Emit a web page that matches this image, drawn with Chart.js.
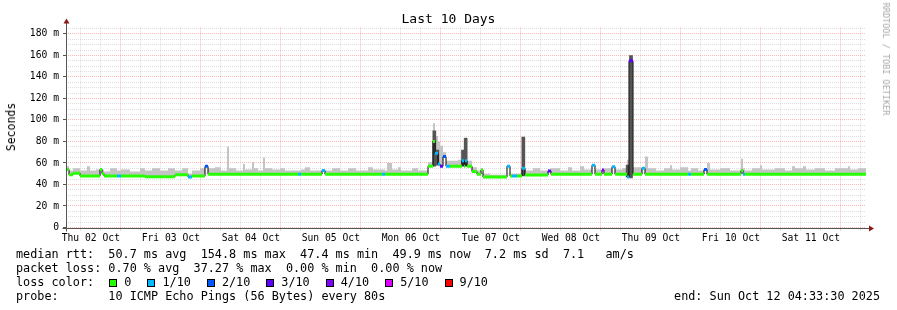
<!DOCTYPE html>
<html>
<head>
<meta charset="utf-8">
<script src="https://cdn.jsdelivr.net/npm/chart.js@4"></script>
<style>
  body { margin: 0; background: #fff; }
  #wrap { position: relative; width: 897px; height: 310px; font-family: "DejaVu Sans Mono", monospace; color: #000; }
  #myChart { position: absolute; left: 0; top: 0; }
  .txt { position: absolute; white-space: pre; }
  .leg { left: 16px; font-size: 11.8px; line-height: 14px; }
  .box { display: inline-block; width: 6px; height: 6px; border: 1px solid #000; margin: 0 7px 0 1px; vertical-align: -1px; }
  .lab { margin-right: 15px; }
</style>
</head>
<body>
<div id="wrap">
  <canvas id="myChart" width="897" height="310"></canvas>
  <div class="txt" style="left:0;width:897px;text-align:center;top:12px;font-size:13px;line-height:14px;">Last 10 Days</div>
  <div class="txt" style="left:11px;top:127px;font-size:11.5px;transform:translate(-50%,-50%) rotate(-90deg);">Seconds</div>
  <div class="txt" style="left:886px;top:59px;font-size:8.5px;color:#a8a8a8;transform:translate(-50%,-50%) rotate(90deg);">RRDTOOL / TOBI OETIKER</div>
  <div class="txt leg" style="top:247px;">median rtt:  50.7 ms avg  154.8 ms max  47.4 ms min  49.9 ms now  7.2 ms sd  7.1   am/s</div>
  <div class="txt leg" style="top:261px;">packet loss: 0.70 % avg  37.27 % max  0.00 % min  0.00 % now</div>
  <div class="txt leg" style="top:275px;">loss color:  <span id="lossKeys"></span></div>
  <div class="txt leg" style="top:289px;">probe:       10 ICMP Echo Pings (56 Bytes) every 80s</div>
  <div class="txt leg" style="top:289px;left:auto;right:17px;">end: Sun Oct 12 04:33:30 2025</div>
</div>
<script>
// hours since Thu 02 Oct 04:33:30 (graph start)
var startHour = 4.5583;
var dayLabels = ["Thu 02 Oct", "Fri 03 Oct", "Sat 04 Oct", "Sun 05 Oct", "Mon 06 Oct",
  "Tue 07 Oct", "Wed 08 Oct", "Thu 09 Oct", "Fri 10 Oct", "Sat 11 Oct", "Sun 12 Oct"];

var times = [
  0, 0.9, 2.1, 4.2, 6.3, 7.2, 9.0, 10.2, 10.8, 11.4,
  13.2, 15.3, 16.5, 19.2, 22.2, 23.7, 25.8, 28.2, 30.6, 32.7,
  34.8, 36.6, 37.8, 40.2, 41.7, 42.6, 44.7, 46.5, 48.3, 48.9,
  51.0, 53.1, 53.7, 55.8, 56.4, 57.6, 59.1, 59.7, 61.8, 64.2,
  65.7, 69.6, 70.5, 71.7, 73.2, 76.8, 77.7, 79.8, 82.2, 84.6,
  87.0, 90.6, 92.1, 94.8, 95.7, 96.3, 97.8, 99.6, 100.5, 103.8,
  105.6, 108.6, 110.1, 110.7, 111.6, 112.2, 113.1, 114.0, 115.2, 117.6,
  118.8, 119.4, 119.7, 120.3, 121.8, 123.3, 124.5, 125.1, 127.2, 132.3,
  133.2, 133.8, 135.3, 136.8, 137.7, 140.1, 142.2, 144.6, 145.5, 148.2,
  150.6, 151.8, 154.2, 155.4, 157.8, 158.7, 160.8, 161.4, 163.8, 164.7,
  166.8, 168.3, 168.9, 170.1, 172.8, 173.7, 174.6, 177.0, 179.4, 181.2,
  181.8, 184.2, 186.6, 187.5, 189.6, 191.4, 192.3, 193.2, 196.2, 199.2,
  202.5, 203.1, 203.7, 205.8, 208.2, 208.8, 212.7, 215.7, 217.8, 218.7,
  221.1, 222.0, 224.7, 227.7, 230.7, 234.6, 235.2, 237.6, 240
];

// median rtt in ms
var median = [
  54, 49, 50.5, 48, 48, 48, 48, 54, 50, 48,
  48, 48, 48, 48, 48, 47.3, 47.3, 47.3, 47.3, 49,
  49, 47, 48, 48, 57, 49.5, 49.5, 49.5, 49.5, 49.5,
  49.5, 49.5, 49.5, 49.5, 49.5, 49.5, 49.5, 49.5, 49.5, 49.5,
  49.5, 49.5, 49.5, 49.5, 49.5, 53, 49.5, 49.5, 49.5, 49.5,
  49.5, 49.5, 49.5, 49.5, 49.5, 49.5, 49.5, 49.5, 49.5, 49.5,
  49.5, 57, 80, 69, 59, 57, 66, 57, 57, 57,
  62, 57, 62, 57, 52, 49.5, 53.5, 47, 47, 57,
  48, 48, 48, 55, 48.8, 48.8, 48.8, 52.5, 49.5, 49.5,
  49.5, 49.5, 49.5, 49.5, 58, 49.5, 53.4, 49.5, 56.6, 49.5,
  49.5, 47, 155, 49.5, 55, 49.5, 49.5, 49.5, 49.5, 49.5,
  49.5, 49.5, 49.5, 49.5, 49.5, 54, 49.5, 49.5, 49.5, 49.5,
  53, 49.5, 49.5, 49.5, 49.5, 49.5, 49.5, 49.5, 49.5, 49.5,
  49.5, 49.5, 49.5, 49.5, 49.5, 49.5, 49.5, 49.5, 49.5
];

// index into lossColors
var loss = [
  0, 0, 0, 0, 0, 0, 0, 0, 0, 0,
  0, 1, 0, 0, 0, 0, 0, 0, 0, 0,
  0, 1, 0, 0, 2, 0, 0, 0, 0, 0,
  0, 0, 0, 0, 0, 0, 0, 0, 0, 0,
  0, 1, 0, 0, 0, 1, 0, 0, 0, 0,
  0, 0, 0, 1, 0, 0, 0, 0, 0, 0,
  0, 0, 0, 1, 1, 3, 2, 1, 0, 0,
  1, 0, 1, 0, 0, 0, 0, 0, 0, 1,
  0, 1, 0, 1, 0, 0, 0, 3, 0, 0,
  0, 0, 0, 0, 1, 0, 4, 0, 1, 0,
  0, 1, 3, 0, 1, 0, 0, 0, 0, 0,
  0, 0, 1, 0, 0, 2, 0, 0, 0, 0,
  0, 1, 0, 0, 0, 0, 0, 0, 0, 0,
  0, 0, 0, 0, 0, 0, 0, 0, 0
];

// top of the light smoke (max ping) in ms
var smokeTop = [
  57, 53, 55, 53, 57, 53, 54, 55, 54, 52,
  55, 53, 54, 52, 55, 53, 55, 53, 55, 53,
  55, 50, 53, 55, 58, 55, 56, 53, 75, 55,
  53, 59, 54, 61, 55, 53, 65, 55, 54, 55,
  53, 53, 54, 56, 53, 54, 53, 55, 53, 55,
  53, 56, 54, 54, 53, 60, 54, 56, 53, 55,
  53, 61, 97, 85, 80, 76, 70, 62, 62, 63,
  72, 60, 84, 62, 56, 53, 55, 50, 49, 58,
  50, 50, 50, 84, 53, 55, 53, 54, 55, 53,
  56, 53, 57, 54, 58, 54, 54, 55, 57, 54,
  55, 63, 160, 56, 56, 66, 55, 53, 55, 58,
  54, 56, 53, 55, 53, 55, 60, 54, 55, 53,
  64, 55, 53, 55, 58, 54, 55, 53, 57, 55,
  57, 54, 55, 53, 55, 57, 54, 55, 56
];

// dark smoke columns
var darkTimes = [110.5, 111.4, 119.1, 119.9, 137.2, 168.5, 169.5];
var darkLow = [57, 58, 57, 57, 48, 47, 46];
var darkHigh = [90, 72, 72, 83, 84, 58, 160];

var lossColors = ["#26ff00", "#00b8ff", "#0059ff", "#5e00ff", "#7e00ff", "#dd00ff", "#ff0000"];
var lossLabels = ["0", "1/10", "2/10", "3/10", "4/10", "5/10", "9/10"];

var gridGray = "rgba(170,170,170,0.4)";
var gridRed = "rgba(255,100,100,0.45)";

var keys = "";
for (var k = 0; k < lossColors.length; k++) {
  keys += '<span class="box" style="background:' + lossColors[k] + '"></span><span class="lab">' + lossLabels[k] + "</span>";
}
document.getElementById("lossKeys").innerHTML = keys;

var medianPts = times.map(function (t, i) { return { x: t, y: median[i] }; });
var smokePts = times.map(function (t, i) { return { x: t, y: smokeTop[i] }; });
var darkPts = darkTimes.map(function (t, i) { return { x: t, y: [darkLow[i], darkHigh[i]] }; });
var colorPts = [];
for (var i = 0; i < times.length - 1; i++) {
  colorPts.push({ x: times[i], y: median[i] }, { x: times[i + 1], y: median[i] }, { x: times[i + 1], y: null });
}

function isMidnight(c) {
  return c.tick ? Math.round(c.tick.value + startHour) % 24 === 0 : false;
}
function isMajorY(c) {
  return c.tick ? c.tick.value % 20 === 0 : false;
}

var axesPlugin = {
  id: "axes",
  afterDraw: function (chart) {
    var a = chart.chartArea;
    var c = chart.ctx;
    var x0 = Math.round(a.left) + 0.5;
    var y0 = Math.round(a.bottom) + 0.5;
    c.save();
    c.strokeStyle = "#555";
    c.lineWidth = 1;
    c.beginPath();
    c.moveTo(x0, y0 + 3);
    c.lineTo(x0, a.top - 5);
    c.moveTo(x0 - 4, y0);
    c.lineTo(a.right + 3, y0);
    c.stroke();
    c.fillStyle = "#8b1a1a";
    c.beginPath();
    c.moveTo(x0, a.top - 9);
    c.lineTo(x0 - 3, a.top - 4);
    c.lineTo(x0 + 3, a.top - 4);
    c.closePath();
    c.fill();
    c.beginPath();
    c.moveTo(a.right + 8, y0);
    c.lineTo(a.right + 3, y0 - 3);
    c.lineTo(a.right + 3, y0 + 3);
    c.closePath();
    c.fill();
    c.restore();
  }
};

var ctx = document.getElementById("myChart");
var config = {
  type: "line",
  data: {
    datasets: [
      {
        data: colorPts,
        borderWidth: 3,
        borderColor: lossColors[0],
        borderCapStyle: "butt",
        segment: {
          borderColor: function (s) { return lossColors[loss[Math.floor(s.p0DataIndex / 3)]]; }
        },
        pointRadius: 0,
        spanGaps: false,
        fill: false,
        order: 0
      },
      {
        data: medianPts,
        stepped: true,
        borderColor: "#000",
        borderWidth: 1,
        pointRadius: 0,
        fill: false,
        order: 1
      },
      {
        type: "bar",
        data: darkPts,
        backgroundColor: "#555",
        borderWidth: 0,
        barThickness: 3,
        grouped: false,
        order: 2
      },
      {
        data: smokePts,
        stepped: true,
        borderColor: "rgba(0,0,0,0)",
        borderWidth: 1,
        backgroundColor: "#c4c4c4",
        pointRadius: 0,
        fill: 1,
        order: 3
      }
    ]
  },
  options: {
    responsive: false,
    animation: false,
    events: [],
    layout: { padding: { left: 0, right: 31, top: 27.5, bottom: 0 } },
    plugins: { legend: { display: false }, tooltip: { enabled: false } },
    scales: {
      x: {
        type: "linear",
        min: 0,
        max: 240,
        offset: false,
        afterBuildTicks: function (scale) {
          var t = [];
          for (var h = 6 - (startHour % 6); h < 240; h += 6) t.push({ value: h });
          scale.ticks = t;
        },
        afterFit: function (scale) { scale.height = 82.5; },
        ticks: {
          autoSkip: false,
          maxRotation: 0,
          padding: 2,
          color: "#000",
          font: { family: "DejaVu Sans Mono", size: 9.7 },
          callback: function (v) {
            if (Math.round(v + startHour) % 24 === 12) return dayLabels[Math.floor((v + startHour) / 24)];
            return "";
          }
        },
        grid: {
          color: function (c) { return isMidnight(c) ? gridRed : gridGray; },
          tickColor: function (c) { return isMidnight(c) ? gridRed : gridGray; },
          tickLength: 3,
          tickBorderDash: []
        },
        border: { display: false, dash: [1, 1] }
      },
      y: {
        min: 0,
        max: 186,
        afterBuildTicks: function (scale) {
          var t = [];
          for (var v = 0; v <= 185; v += 5) t.push({ value: v });
          scale.ticks = t;
        },
        afterFit: function (scale) { scale.width = 66; },
        ticks: {
          autoSkip: false,
          padding: 4,
          color: "#000",
          font: { family: "DejaVu Sans Mono", size: 9.7 },
          callback: function (v) {
            if (v % 20 !== 0) return "";
            return v === 0 ? "0" : v + " m";
          }
        },
        grid: {
          color: function (c) { return isMajorY(c) ? gridRed : gridGray; },
          tickColor: function (c) { return isMajorY(c) ? "#555" : "rgba(0,0,0,0)"; },
          tickLength: 3,
          tickBorderDash: []
        },
        border: { display: false, dash: [1, 1] }
      }
    }
  },
  plugins: [axesPlugin]
};

var myChart = new Chart(ctx, config);
</script>
</body>
</html>
